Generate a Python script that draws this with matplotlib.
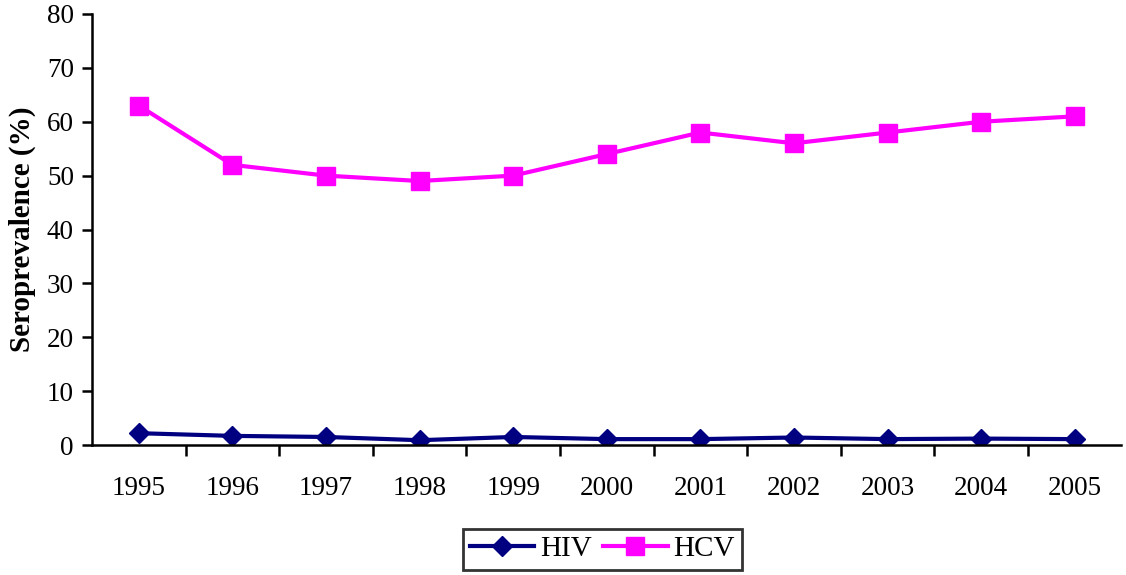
import matplotlib.pyplot as plt
from matplotlib.ticker import FixedLocator

years = [1995, 1996, 1997, 1998, 1999, 2000, 2001, 2002, 2003, 2004, 2005]
hiv = [2.2, 1.7, 1.5, 0.9, 1.5, 1.1, 1.1, 1.4, 1.1, 1.2, 1.1]
hcv = [63, 52, 50, 49, 50, 54, 58, 56, 58, 60, 61]

plt.rcParams['font.family'] = ['Liberation Serif', 'DejaVu Serif']

fig = plt.figure(figsize=(11.26, 5.75), dpi=100)
ax = fig.add_axes([0.0817, 0.226, 0.9143, 0.7497])

ax.plot(years, hiv, color='#000080', lw=3, marker='D', ms=10.5, label='HIV')
ax.plot(years, hcv, color='#FF00FF', lw=3, marker='s', ms=13, label='HCV')

ax.set_xlim(1994.5, 2005.5)
ax.set_ylim(0, 80)
ax.set_yticks(range(0, 81, 10))
ax.set_xticks(years)
ax.tick_params(axis='x', which='major', length=0, labelsize=19.5, pad=22)
ax.xaxis.set_minor_locator(FixedLocator([y + 0.5 for y in years[:-1]]))
ax.tick_params(axis='x', which='minor', length=8, width=1.8, direction='out')
ax.tick_params(axis='y', labelsize=19.5, length=7, width=1.8, direction='out', pad=6)

for s in ['top', 'right']:
    ax.spines[s].set_visible(False)
ax.spines['left'].set_linewidth(1.8)
ax.spines['bottom'].set_linewidth(1.8)

ax.set_ylabel('Seroprevalence (%)', fontsize=21, fontweight='bold', labelpad=8)

leg = fig.legend(loc='center', bbox_to_anchor=(0.535, 0.045), ncol=2, fontsize=21,
                 frameon=True, fancybox=False, edgecolor='black', handlelength=2.2,
                 columnspacing=0.4, handletextpad=0.2, borderpad=0.25,
                 borderaxespad=0)
leg.get_frame().set_linewidth(2)

fig.savefig('out.png', dpi=100)
